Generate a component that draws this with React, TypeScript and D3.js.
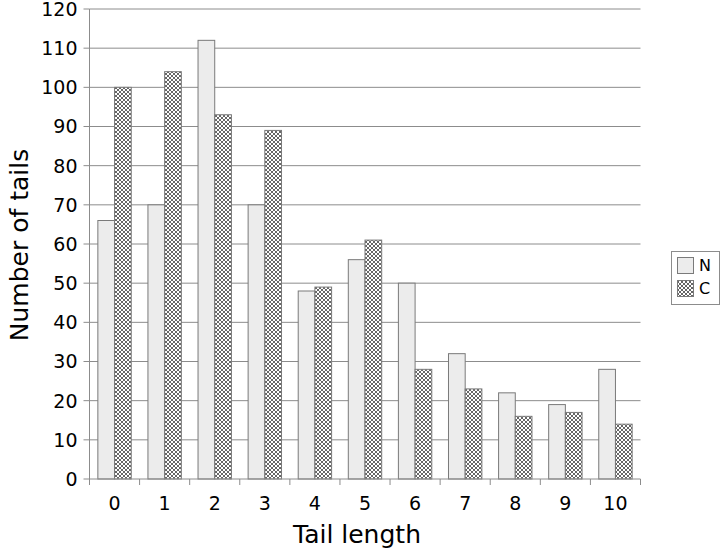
import React from "react";
import * as d3 from "d3";

const categories = ["0", "1", "2", "3", "4", "5", "6", "7", "8", "9", "10"];
const seriesN = [66, 70, 112, 70, 48, 56, 50, 32, 22, 19, 28];
const seriesC = [100, 104, 93, 89, 49, 61, 28, 23, 16, 17, 14];
const yTicks = [0, 10, 20, 30, 40, 50, 60, 70, 80, 90, 100, 110, 120];
const seriesNames = ["N", "C"];

export default function App() {
  const W = 720, H = 551;
  const left = 89.5, right = 640.5, top = 9, bottom = 479;
  const x = d3.scaleBand<string>().domain(categories).range([left, right]).paddingInner(0).paddingOuter(0);
  const y = d3.scaleLinear().domain([0, 120]).range([bottom, top]);
  const bw = x.bandwidth();
  const pad = bw / 6;
  const barW = (bw - 2 * pad) / 2;
  const font = "DejaVu Sans, sans-serif";

  return (
    <svg width={W} height={H} style={{ position: "absolute", left: 0, top: 0 }}>
      <defs>
        <pattern id="hatch" patternUnits="userSpaceOnUse" width="4" height="4">
          <rect width="4" height="4" fill="#ffffff" />
          <path d="M0,0 L4,4 M4,0 L0,4 M-1,1 L1,-1 M3,5 L5,3 M-1,3 L1,5 M3,-1 L5,1" stroke="#555" strokeWidth="0.9" />
        </pattern>
      </defs>
      <rect width={W} height={H} fill="#fff" />
      {yTicks.map((t) => (
        <g key={t}>
          {t > 0 && <line x1={left} x2={right} y1={y(t)} y2={y(t)} stroke="#8c8c8c" strokeWidth={1} />}
          <line x1={left - 6} x2={left} y1={y(t)} y2={y(t)} stroke="#8c8c8c" strokeWidth={1} />
          <text x={left - 12} y={y(t)} dy="0.36em" textAnchor="end" fontFamily={font} fontSize={19} fill="#000">{t}</text>
        </g>
      ))}
      {categories.map((c, i) => {
        const x0 = x(c)!;
        return (
          <g key={c}>
            <rect x={x0 + pad} y={y(seriesN[i])} width={barW} height={bottom - y(seriesN[i])} fill="#ececec" stroke="#7a7a7a" strokeWidth={1} />
            <rect x={x0 + pad + barW} y={y(seriesC[i])} width={barW} height={bottom - y(seriesC[i])} fill="url(#hatch)" stroke="#7a7a7a" strokeWidth={1} />
            <text x={x0 + bw / 2} y={510} textAnchor="middle" fontFamily={font} fontSize={19} fill="#000">{c}</text>
          </g>
        );
      })}
      {d3.range(categories.length + 1).map((i) => (
        <line key={i} x1={left + i * bw} x2={left + i * bw} y1={bottom} y2={bottom + 6} stroke="#8c8c8c" strokeWidth={1} />
      ))}
      <line x1={left} x2={left} y1={top} y2={bottom} stroke="#8c8c8c" strokeWidth={1} />
      <line x1={left} x2={right} y1={bottom} y2={bottom} stroke="#8c8c8c" strokeWidth={1} />
      <text x={(left + right) / 2 - 8} y={543} textAnchor="middle" fontFamily={font} fontSize={25} fill="#000">Tail length</text>
      <text transform={`translate(19,${(top + bottom) / 2 + 1}) rotate(-90)`} textAnchor="middle" dy="0.35em" fontFamily={font} fontSize={25} fill="#000">Number of tails</text>
      <g>
        <rect x={671.5} y={251.5} width={48} height={53} fill="#fff" stroke="#8c8c8c" strokeWidth={1} />
        <rect x={677.5} y={257.5} width={16} height={16} fill="#ececec" stroke="#7a7a7a" />
        <rect x={677.5} y={280.5} width={16} height={16} fill="url(#hatch)" stroke="#7a7a7a" />
        <text x={699} y={265.5} dy="0.35em" fontFamily={font} fontSize={16}>{seriesNames[0]}</text>
        <text x={699} y={288.5} dy="0.35em" fontFamily={font} fontSize={16}>{seriesNames[1]}</text>
      </g>
    </svg>
  );
}
